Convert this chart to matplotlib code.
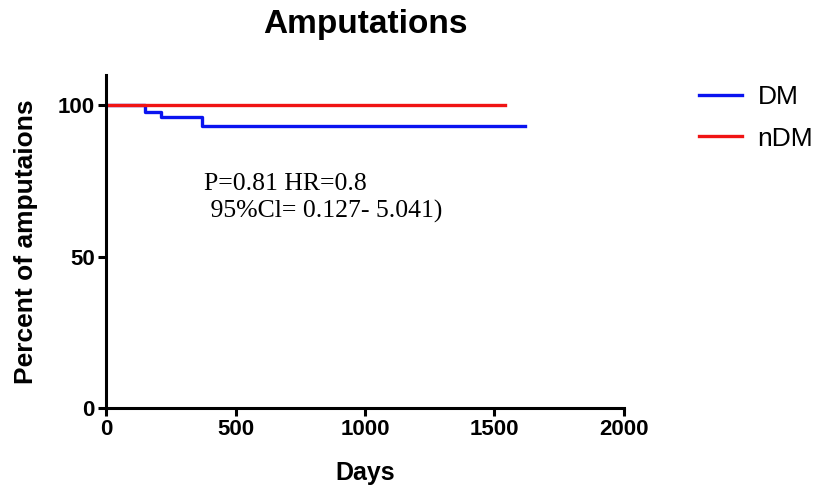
"""
Kaplan-Meier style amputation curve
"""

import matplotlib.pyplot as plt

# DM / nDM survival steps (days, percent)
dm_days = [0, 150, 212, 370, 1618]
dm_pct = [100, 97.7, 96.3, 93.2, 93.2]
ndm_days = [0, 1540]
ndm_pct = [100, 100]

x_ticks = [0, 500, 1000, 1500, 2000]
y_ticks = [0, 50, 100]

plt.rcParams['font.family'] = ['Liberation Sans', 'DejaVu Sans']

fig = plt.figure(figsize=(8.22, 4.97), dpi=100)
ax = fig.add_axes([0.129, 0.179, 0.630, 0.670])

ax.step(dm_days, dm_pct, where='post', color='#0a14f0', linewidth=2.4, label='DM')
ax.step(ndm_days, ndm_pct, where='post', color='#f01414', linewidth=2.4, label='nDM')

ax.set_xlim(0, 2000)
ax.set_ylim(0, 110)
ax.set_xticks(x_ticks)
ax.set_yticks(y_ticks)
ax.tick_params(axis='both', direction='out', length=6, width=2.2, labelsize=16, pad=2)
for lbl in ax.get_xticklabels() + ax.get_yticklabels():
    lbl.set_fontweight('bold')

for side in ['top', 'right']:
    ax.spines[side].set_visible(False)
for side in ['left', 'bottom']:
    ax.spines[side].set_linewidth(2.2)
    ax.spines[side].set_color('black')

ax.set_xlabel('Days', fontsize=18, fontweight='bold', labelpad=15)
ax.set_ylabel('Percent of amputaions', fontsize=19, fontweight='bold', labelpad=14)
ax.set_title('Amputations', fontsize=24, fontweight='bold', pad=30)

ax.text(0.19, 0.705, 'P=0.81 HR=0.8\n 95%Cl= 0.127- 5.041)', transform=ax.transAxes,
        family=['Liberation Serif', 'DejaVu Serif'], fontsize=18.5, va='top',
        linespacing=1.25)

ax.legend(loc='upper left', bbox_to_anchor=(1.1, 1.04), frameon=False, fontsize=19,
          handlelength=1.6, handletextpad=0.6, labelspacing=0.65)

plt.savefig('out.png', dpi=100)
plt.close()
